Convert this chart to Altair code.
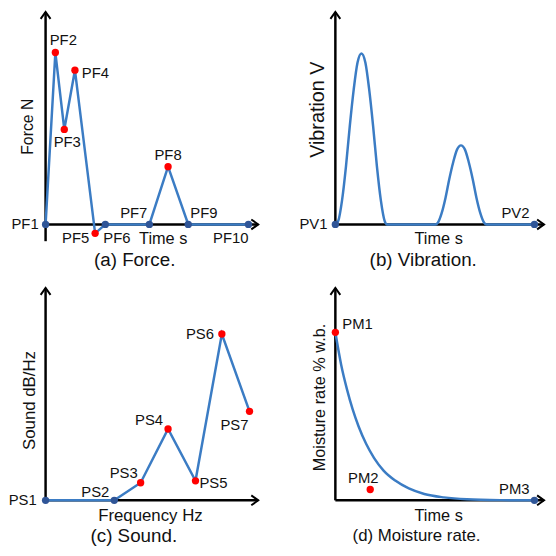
import altair as alt
import pandas as pd

FONT = "Liberation Sans, Arial, sans-serif"
BLUE = "#3b7cc4"
NAVY = "#2f5597"
RED = "#ff0000"
INK = "#111111"

# ---------------- data (axis-fraction units, 0..100) ----------------
# (a) Force
force_names = ["PF1", "PF2", "PF3", "PF4", "PF5", "PF6", "PF7", "PF8", "PF9", "PF10"]
force_t = [0, 4.6, 8.8, 13.8, 23.3, 28.1, 48.8, 57.6, 67.1, 95.4]
force_v = [0, 80.9, 44.7, 72.6, -4.2, 0, 0, 27.2, 0, 0]
force_kind = ["base", "peak", "peak", "peak", "peak", "base", "base", "peak", "base", "base"]

# (b) Vibration curve
vib_t = [0, 1.4, 3.2, 5.1, 6.9, 8.8, 10.6, 12.5, 14.4, 16.2, 18.1, 19.9, 21.8, 23.6, 24.8,
         47.9, 49.1, 50.9, 52.8, 54.6, 56.5, 58.3, 60.2, 62.1, 63.9, 65.8, 67.6, 69.5, 71.3, 72.5,
         95.4]
vib_v = [0, 1.7, 11.3, 27.4, 46.2, 63.6, 76.1, 80.5, 76.1, 63.6, 46.2, 27.4, 11.3, 1.7, 0,
         0, 0.8, 5.2, 12.6, 21.4, 29.4, 35.2, 37.2, 35.2, 29.4, 21.4, 12.6, 5.2, 0.8, 0,
         0]
vib_names = ["PV1", "PV2"]
vib_pt_t = [0, 95.4]
vib_pt_v = [0, 0]
vib_kind = ["base", "base"]

# (c) Sound
sound_names = ["PS1", "PS2", "PS3", "PS4", "PS5", "PS6", "PS7"]
sound_f = [0, 32.3, 44.7, 57.6, 70.5, 82.9, 95.9]
sound_v = [0, 0, 8.3, 33.6, 9.2, 78.3, 41.9]
sound_kind = ["base", "base", "peak", "peak", "peak", "peak", "peak"]

# (d) Moisture rate curve
moist_t = [0, 2.8, 5.6, 8.3, 11.1, 14.8, 18.5, 23.1, 28.7, 35.2, 42.6, 51.9, 63.0, 79.6, 95.4]
moist_v = [79.1, 63.7, 52.1, 42.8, 34.9, 26.5, 20.0, 14.0, 9.3, 5.6, 3.0, 1.4, 0.5, 0.1, 0]
moist_names = ["PM1", "PM2", "PM3"]
moist_pt_t = [0, 16.7, 95.4]
moist_pt_v = [79.1, 5.1, 0]
moist_kind = ["peak", "peak", "base"]

# ---------------- label placement (styles) ----------------
LABEL_POS = {
    "PF1": ("right", -7, 0), "PF2": ("center", 8, -13), "PF3": ("center", 3, 13),
    "PF4": ("left", 7, 3), "PF5": ("right", -6, 5), "PF6": ("left", -2, 14),
    "PF7": ("right", -2, -11), "PF8": ("center", 0, -12), "PF9": ("left", 2, -11),
    "PF10": ("right", 0, 14),
    "PV1": ("right", -8, 0), "PV2": ("right", -5, -11),
    "PS1": ("right", -9, 0), "PS2": ("right", -5, -8), "PS3": ("right", -3, -10),
    "PS4": ("right", -5, -9), "PS5": ("left", 4, 2), "PS6": ("right", -8, 0),
    "PS7": ("right", -1, 14),
    "PM1": ("left", 7, -8), "PM2": ("center", -7, -12), "PM3": ("right", -5, -11),
}

XS = alt.Scale(domain=[0, 100], nice=False, zero=False)
YS = alt.Scale(domain=[-8, 100], nice=False, zero=False)
R_ARROW = "M-1.4,-1L0,0L-1.4,1"
U_ARROW = "M-1,1.4L0,0L1,1.4"


def xq(f="x"):
    return alt.X(f"{f}:Q", scale=XS, axis=None)


def yq(f="y"):
    return alt.Y(f"{f}:Q", scale=YS, axis=None)


def panel(line_x, line_y, interp, names, px, py, kinds, xtitle, ytitle, caption,
          y_low, width, fonts):
    layers = []
    ax = pd.DataFrame({"x": [0, 0], "y": [0, y_low], "x2": [100, 0], "y2": [0, 100]})
    layers.append(alt.Chart(ax).mark_rule(color="black", strokeWidth=2.5).encode(
        x=xq(), y=yq(), x2="x2:Q", y2="y2:Q"))
    ld = pd.DataFrame({"x": line_x, "y": line_y, "i": list(range(len(line_x)))})
    layers.append(alt.Chart(ld).mark_line(color=BLUE, strokeWidth=2.5, interpolate=interp).encode(
        x=xq(), y=yq(), order="i:Q"))
    layers.append(alt.Chart(pd.DataFrame({"x": [100], "y": [0]})).mark_point(
        shape=R_ARROW, size=100, filled=False, color="black", strokeWidth=2, opacity=1).encode(
        x=xq(), y=yq()))
    layers.append(alt.Chart(pd.DataFrame({"x": [0], "y": [100]})).mark_point(
        shape=U_ARROW, size=100, filled=False, color="black", strokeWidth=2, opacity=1).encode(
        x=xq(), y=yq()))
    pdf = pd.DataFrame({"x": px, "y": py, "name": names, "kind": kinds})
    layers.append(alt.Chart(pdf).mark_circle(size=55, opacity=1).encode(
        x=xq(), y=yq(),
        color=alt.Color("kind:N", scale=alt.Scale(domain=["base", "peak"], range=[NAVY, RED]),
                        legend=None)))
    for n, xv, yv in zip(names, px, py):
        al, dx, dy = LABEL_POS[n]
        layers.append(alt.Chart(pd.DataFrame({"x": [xv], "y": [yv], "t": [n]})).mark_text(
            align=al, baseline="middle", dx=dx, dy=dy, font=FONT, fontSize=15, color=INK).encode(
            x=xq(), y=yq(), text="t:N"))
    (xt, xtx, xty), (yt, ytx, yty), (ct, ctx, cty) = xtitle, ytitle, caption
    layers.append(alt.Chart(pd.DataFrame({"x": [xtx], "y": [xty], "t": [xt]})).mark_text(
        align="center", baseline="middle", font=FONT, fontSize=fonts[0], color=INK).encode(
        x=xq(), y=yq(), text="t:N"))
    layers.append(alt.Chart(pd.DataFrame({"x": [ytx], "y": [yty], "t": [yt]})).mark_text(
        align="center", baseline="middle", angle=270, font=FONT, fontSize=fonts[1], color=INK).encode(
        x=xq(), y=yq(), text="t:N"))
    layers.append(alt.Chart(pd.DataFrame({"x": [ctx], "y": [cty], "t": [ct]})).mark_text(
        align="center", baseline="middle", font=FONT, fontSize=fonts[2], color=INK).encode(
        x=xq(), y=yq(), text="t:N"))
    return alt.layer(*layers).properties(width=width, height=232)


pa = panel(force_t, force_v, "linear", force_names, force_t, force_v, force_kind,
           ("Time s", 55.3, -7.0), ("Force N", -8.3, 46), ("(a) Force.", 41.9, -17.0),
           -7.9, 215, (16.5, 16, 19))
pb = panel(vib_t, vib_v, "monotone", vib_names, vib_pt_t, vib_pt_v, vib_kind,
           ("Time s", 49.5, -7.0), ("Vibration V", -8.3, 54), ("(b) Vibration.", 42.1, -17.0),
           0, 211, (16.5, 20, 19))
pc = panel(sound_f, sound_v, "linear", sound_names, sound_f, sound_v, sound_kind,
           ("Frequency Hz", 49.3, -7.4), ("Sound dB/Hz", -7.4, 47), ("(c) Sound.", 41.5, -16.6),
           0, 215, (17, 17, 19))
pd_ = panel(moist_t, moist_v, "monotone", moist_names, moist_pt_t, moist_pt_v, moist_kind,
            ("Time s", 49.5, -7.6), ("Moisture rate % w.b.", -7.4, 48.4),
            ("(d) Moisture rate.", 38.9, -16.6), 0, 211, (16.5, 16.5, 17))

chart = alt.concat(
    pa, pb, pc, pd_, columns=2,
    spacing={"row": 47, "column": 78}, bounds="flush",
).properties(
    padding={"top": -3, "left": 0, "right": 0, "bottom": 0},
    background="white",
).configure_view(stroke=None)

chart.save("out.html", embed_options={"renderer": "svg", "actions": False})
